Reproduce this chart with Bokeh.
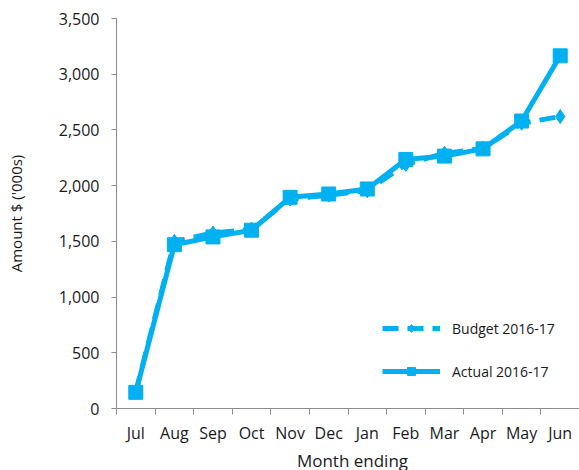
from bokeh.plotting import figure
from bokeh.layouts import column
from bokeh.models import Range1d, FixedTicker, NumeralTickFormatter, Legend, LegendItem, Div
from bokeh.embed import file_html
from bokeh.resources import INLINE

months = ["Jul", "Aug", "Sep", "Oct", "Nov", "Dec", "Jan", "Feb", "Mar", "Apr", "May", "Jun"]
budget = [150, 1500, 1575, 1610, 1880, 1915, 1955, 2190, 2290, 2335, 2560, 2620]
actual = [145, 1470, 1540, 1600, 1895, 1925, 1970, 2235, 2265, 2330, 2580, 3165]
y_ticks = [0, 500, 1000, 1500, 2000, 2500, 3000, 3500]
x_title = "Month ending"
y_title = "Amount $ ('000s)"

xs = [i + 0.5 for i in range(len(months))]
bounds = [i for i in range(len(months) + 1)]

COLOR = "#00B0F0"
FONT = "Open Sans"
TXT = "#1a1a1a"
GRAY = "#8c8c8c"

p = figure(width=579, height=450, output_backend="svg", toolbar_location=None,
           x_range=Range1d(0, 12), y_range=Range1d(0, 3500),
           min_border_left=116, min_border_right=0, min_border_top=18, min_border_bottom=42)
p.outline_line_color = None
p.grid.visible = False

b_line = p.line(xs, budget, line_color=COLOR, line_width=5, line_dash="16 9")
b_mark = p.scatter(xs, budget, marker="diamond", size=14, fill_color=COLOR, line_color=COLOR)
a_line = p.line(xs, actual, line_color=COLOR, line_width=5)
a_mark = p.scatter(xs, actual, marker="square", size=14, fill_color=COLOR, line_color=COLOR)

# x axis: labels at centres, tick marks at category boundaries
p.xaxis.ticker = FixedTicker(ticks=xs, minor_ticks=bounds)
p.xaxis.major_label_overrides = {x: m for x, m in zip(xs, months)}
p.xaxis.major_tick_in = 0
p.xaxis.major_tick_out = 6
p.xaxis.minor_tick_in = 0
p.xaxis.minor_tick_out = 6
p.xaxis.minor_tick_line_color = GRAY

p.yaxis.ticker = FixedTicker(ticks=y_ticks)
p.yaxis.formatter = NumeralTickFormatter(format="0,0")
p.yaxis.minor_tick_line_color = None
p.yaxis.major_tick_in = 0
p.yaxis.major_tick_out = 5
p.yaxis.axis_label = y_title

for ax in (p.xaxis[0], p.yaxis[0]):
    ax.axis_line_color = GRAY
    ax.major_label_text_font = FONT
    ax.major_label_text_font_size = "16px"
    ax.major_label_text_color = TXT
    ax.axis_label_text_font = FONT
    ax.axis_label_text_font_style = "normal"
    ax.axis_label_text_color = TXT

p.xaxis.major_tick_line_color = None
p.yaxis.major_tick_line_color = GRAY
p.yaxis.axis_label_text_font_size = "15px"

p.xaxis.major_label_standoff = 7
p.yaxis.major_label_standoff = 12
p.yaxis.axis_label_standoff = 30

legend = Legend(items=[
    LegendItem(label="Budget 2016-17", renderers=[b_line, b_mark]),
    LegendItem(label="Actual 2016-17", renderers=[a_line, a_mark]),
], location=(266, 27), glyph_width=58, glyph_height=20, label_height=20,
    spacing=23, padding=0, margin=0, label_standoff=12,
    border_line_color=None, background_fill_alpha=0,
    label_text_font=FONT, label_text_font_size="14px", label_text_color=TXT)
p.add_layout(legend)

# x-axis title below the plot, centred over the plotting frame
title_div = Div(text=(f'<div style="display:block;width:463px;margin:-9px 0 0 116px;padding:0;'
                      f'text-align:center;font-family:\'{FONT}\';font-size:17px;'
                      f'line-height:20px;color:{TXT};white-space:nowrap;">{x_title}</div>'),
                width=579, height=20)

layout = column(p, title_div, spacing=0)
open("out.html", "w").write(file_html(layout, INLINE))
